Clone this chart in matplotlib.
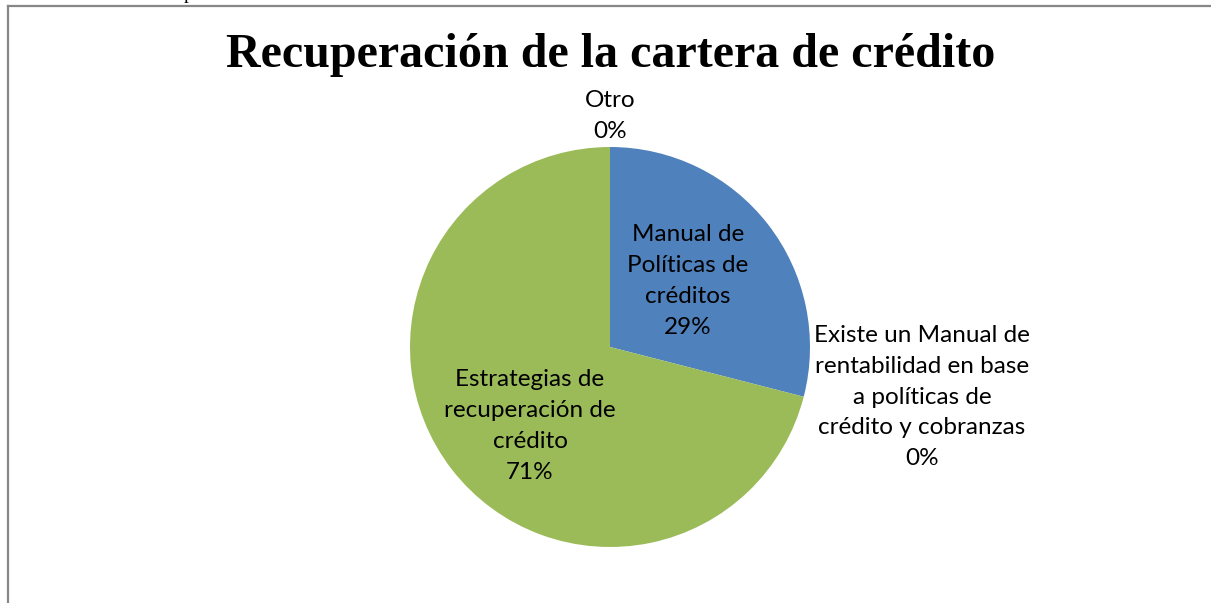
import matplotlib
matplotlib.use("Agg")
import matplotlib.pyplot as plt
from matplotlib.lines import Line2D

title = "Recuperación de la cartera de crédito"
categories = ["Manual de\nPolíticas de\ncréditos",
              "Existe un Manual de\nrentabilidad en base\na políticas de\ncrédito y cobranzas",
              "Estrategias de\nrecuperación de\ncrédito",
              "Otro"]
values = [29, 0, 71, 0]
pct_labels = ["29%", "0%", "71%", "0%"]
colors = ["#4F81BD", "#C0504D", "#9BBB59", "#8064A2"]

W, H = 1211, 603
fig = plt.figure(figsize=(W / 100, H / 100), dpi=100)
fig.patch.set_facecolor("white")

cx, cy, r = 610, 347, 200
ax = fig.add_axes([(cx - r) / W, (H - cy - r) / H, 2 * r / W, 2 * r / H])
ax.pie(values, colors=colors, startangle=90, counterclock=False, radius=1,
       wedgeprops=dict(linewidth=0))
ax.set_xlim(-1, 1)
ax.set_ylim(-1, 1)
ax.set_aspect("auto")
ax.axis("off")

def px(x, y):
    return (x - cx) / r, (cy - y) / r

label_pos = [px(688, 281), px(922, 397), px(530, 426), px(610, 116)]
font = ["Lato", "DejaVu Sans"]
for cat, pct, (lx, ly) in zip(categories, pct_labels, label_pos):
    ax.text(lx, ly, f"{cat}\n{pct}", ha="center", va="center", fontsize=17.5,
            family=font, linespacing=1.58, color="black", clip_on=False)

fig.text(611 / W, 1 - 55 / H, title, ha="center", va="center",
         fontsize=34.6, fontweight="bold", family="Liberation Serif")

fig.text(188 / W, 1 + 1 / H, "p", ha="center", va="baseline",
         fontsize=14, family="Liberation Serif")

fig.add_artist(Line2D([8 / W, 8 / W], [0, 1 - 6 / H], color="#878787", lw=1.6,
                      transform=fig.transFigure))
fig.add_artist(Line2D([8 / W, 1], [1 - 6 / H, 1 - 6 / H], color="#878787", lw=1.6,
                      transform=fig.transFigure))

fig.savefig("out.png", dpi=100)
